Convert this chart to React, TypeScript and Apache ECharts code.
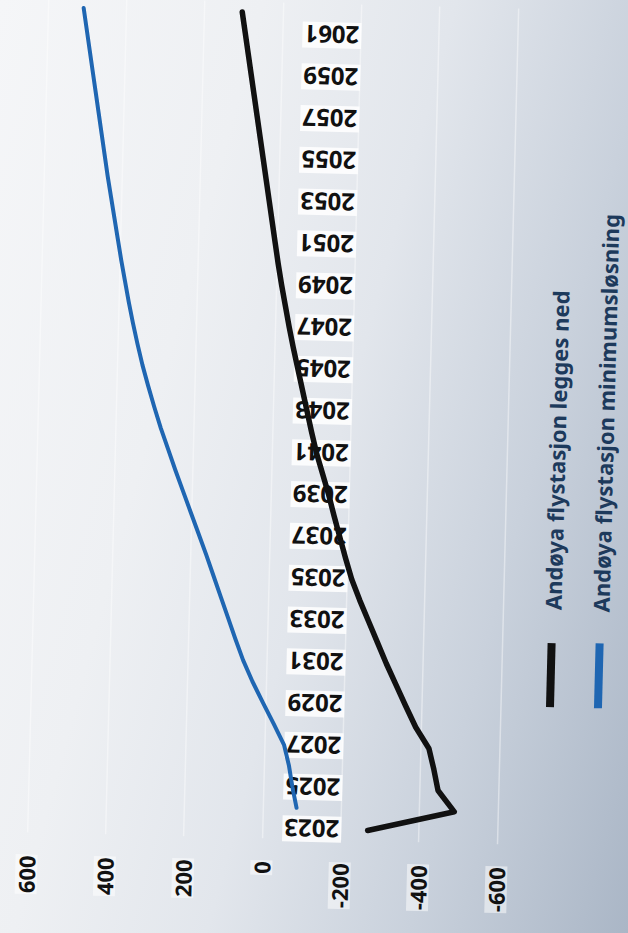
import React, { useEffect, useRef } from "react";
import * as echarts from "echarts";

const years = [
  "2023", "2024", "2025", "2026", "2027", "2028", "2029", "2030", "2031", "2032",
  "2033", "2034", "2035", "2036", "2037", "2038", "2039", "2040", "2041", "2042",
  "2043", "2044", "2045", "2046", "2047", "2048", "2049", "2050", "2051", "2052",
  "2053", "2054", "2055", "2056", "2057", "2058", "2059", "2060", "2061", "2062",
];

const seriesNames = ["Andøya flystasjon legges ned", "Andøya flystasjon minimumsløsning"];

const leggesNed = [
  -269, -489, -446, -434, -420, -385, -358, -332, -306, -282,
  -258, -234, -212, -195, -179, -163, -148, -131, -114, -100,
  -87, -74, -61, -48, -36, -25, -14, -4, 5, 14,
  23, 32, 41, 50, 59, 68, 77, 86, 95, 104,
];

const minimumslosning = [
  null, -86, -74, -64, -50, -22, 7, 35, 60, 81,
  101, 121, 141, 161, 182, 203, 224, 245, 265, 285,
  303, 320, 336, 350, 363, 375, 386, 397, 407, 417,
  427, 437, 446, 455, 464, 473, 482, 491, 500, 509,
];

const valueMin = -600;
const valueMax = 600;
const valueStep = 200;

const lineColors = ["#111111", "#1f66b2"];

export default function App() {
  const ref = useRef<HTMLDivElement>(null);

  useEffect(() => {
    if (!ref.current) return;
    const chart = echarts.init(ref.current, null, { renderer: "svg" });
    const labelFont = {
      fontWeight: "bold" as const,
      fontFamily: "Noto Sans",
      color: "#111111",
    };
    const gridLeft = 76.5;
    const gridWidth = 470;
    const legendText = {
      fill: "#1d3a5c",
      fontSize: 22,
      fontWeight: "bold",
      fontFamily: "Noto Sans",
      align: "left",
      verticalAlign: "middle",
    };
    chart.setOption({
      animation: false,
      backgroundColor: "transparent",
      grid: {
        left: gridLeft,
        top: 43.5,
        width: gridWidth,
        height: 836,
        containLabel: false,
        outerBoundsMode: "none",
      },
      xAxis: {
        type: "value",
        min: valueMin,
        max: valueMax,
        interval: valueStep,
        inverse: true,
        position: "bottom",
        axisLine: { show: false },
        axisTick: { show: false },
        splitLine: { show: true, lineStyle: { color: "rgba(255,255,255,0.42)", width: 1.5 } },
        axisLabel: {
          ...labelFont,
          fontSize: 22,
          rotate: 90,
          margin: 22,
          backgroundColor: "rgba(255,255,255,0.5)",
          padding: [0, 1],
        },
      },
      yAxis: {
        type: "category",
        data: years,
        boundaryGap: true,
        position: "right",
        offset: -gridWidth / 2,
        axisLine: { show: false, onZero: false },
        axisTick: { show: false },
        splitLine: { show: false },
        axisLabel: {
          ...labelFont,
          fontSize: 24,
          interval: 1,
          rotate: 180,
          margin: 20,
          backgroundColor: "rgba(255,255,255,0.85)",
          padding: [1, 2],
        },
      },
      series: [
        {
          name: seriesNames[0],
          type: "line",
          data: leggesNed,
          symbol: "none",
          smooth: false,
          z: 4,
          lineStyle: { color: lineColors[0], width: 5.5, cap: "round", join: "round" },
        },
        {
          name: seriesNames[1],
          type: "line",
          data: minimumslosning,
          symbol: "none",
          smooth: false,
          connectNulls: false,
          z: 3,
          lineStyle: { color: lineColors[1], width: 4, cap: "round", join: "round" },
        },
      ],
      graphic: [
        {
          type: "line",
          shape: { x1: 596, y1: 677, x2: 596, y2: 741 },
          style: { stroke: lineColors[0], lineWidth: 8 },
        },
        {
          type: "text",
          x: 596,
          y: 644,
          rotation: Math.PI / 2,
          style: { ...legendText, text: seriesNames[0] },
        },
        {
          type: "line",
          shape: { x1: 644, y1: 676, x2: 644, y2: 741 },
          style: { stroke: lineColors[1], lineWidth: 8 },
        },
        {
          type: "text",
          x: 644,
          y: 645,
          rotation: Math.PI / 2,
          style: { ...legendText, text: seriesNames[1] },
        },
      ],
    });
    return () => chart.dispose();
  }, []);

  return (
    <div
      style={{
        position: "fixed",
        left: 0,
        top: 0,
        width: 628,
        height: 933,
        overflow: "hidden",
        background:
          "linear-gradient(105deg, #f5f6f8 0%, #eef0f3 30%, #e2e6ec 52%, #c9d1dc 75%, #aab6c6 100%)",
      }}
    >
      <div
        ref={ref}
        style={{
          position: "absolute",
          left: -40,
          top: -40,
          width: 708,
          height: 1013,
          transform: "rotate(1.45deg)",
          transformOrigin: "50% 50%",
        }}
      />
    </div>
  );
}
